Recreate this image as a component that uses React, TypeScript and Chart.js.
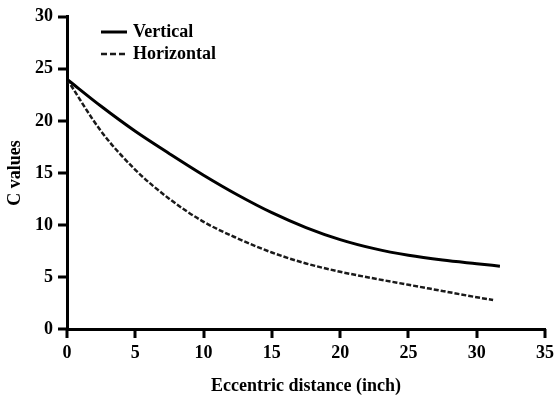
import React, { useEffect, useRef } from "react";
import { Chart, registerables } from "chart.js";

Chart.register(...registerables);

const verticalX = [0, 2.5, 5, 7.5, 10, 12.5, 15, 17.5, 20, 22.5, 25, 27.5, 30, 31.7];
const verticalY = [24, 21.4, 19.0, 16.85, 14.78, 12.88, 11.18, 9.75, 8.59, 7.72, 7.08, 6.62, 6.27, 6.04];
const horizontalX = [0, 2.5, 5, 7.5, 10, 12.5, 15, 17.5, 20, 22.5, 25, 27.5, 30, 31.2];
const horizontalY = [24, 19.0, 15.3, 12.5, 10.3, 8.7, 7.35, 6.3, 5.5, 4.85, 4.25, 3.65, 3.05, 2.78];
const xTicks = [0, 5, 10, 15, 20, 25, 30, 35];
const yTicks = [0, 5, 10, 15, 20, 25, 30];
const seriesLabels = ["Vertical", "Horizontal"];
const xTitle = "Eccentric distance (inch)";
const yTitle = "C values";

const FONT = "'Liberation Serif', 'Times New Roman', serif";

const overlayPlugin = {
  id: "overlayLegendTicks",
  afterDraw(chart: any) {
    const ctx = chart.ctx;
    ctx.save();
    const x0 = 101;
    const x1 = 127;
    const rows = [32, 54];
    chart.data.datasets.forEach((ds: any, i: number) => {
      const y = rows[i];
      ctx.beginPath();
      ctx.strokeStyle = ds.borderColor;
      ctx.lineWidth = ds.borderWidth;
      ctx.setLineDash(i === 0 ? [] : [6, 3]);
      ctx.moveTo(x0, y);
      ctx.lineTo(x1, y);
      ctx.stroke();
      ctx.setLineDash([]);
      ctx.fillStyle = "#000";
      ctx.font = `bold 18px ${FONT}`;
      ctx.textBaseline = "middle";
      ctx.textAlign = "left";
      ctx.fillText(ds.label, 133, y);
    });
    const xs = chart.scales["x"];
    const ys = chart.scales["y"];
    const area = chart.chartArea;
    const len = 9;
    ctx.fillStyle = "#000";
    xTicks.forEach((v) => {
      const px = xs.getPixelForValue(v);
      ctx.fillRect(Math.round(px) - 1.5, area.bottom, 3, len);
    });
    yTicks.forEach((v) => {
      const py = ys.getPixelForValue(v);
      ctx.fillRect(area.left - len, Math.round(py) - 1.5, len, 3);
    });
    ctx.restore();
  },
};

export default function App() {
  const ref = useRef<HTMLCanvasElement>(null);
  useEffect(() => {
    if (!ref.current) return;
    const chart = new Chart(ref.current, {
      type: "line",
      data: {
        datasets: [
          {
            label: seriesLabels[0],
            data: verticalX.map((x, i) => ({ x, y: verticalY[i] })),
            borderColor: "#000",
            borderWidth: 3,
            pointRadius: 0,
            fill: false,
            cubicInterpolationMode: "monotone",
          },
          {
            label: seriesLabels[1],
            data: horizontalX.map((x, i) => ({ x, y: horizontalY[i] })),
            borderColor: "#1a1a1a",
            borderWidth: 2.5,
            borderDash: [5, 2],
            pointRadius: 0,
            fill: false,
            cubicInterpolationMode: "monotone",
          },
        ],
      },
      options: {
        animation: false,
        responsive: false,
        maintainAspectRatio: false,
        layout: { padding: { left: 0, right: 10, top: 16, bottom: 0 } },
        plugins: {
          legend: { display: false },
          tooltip: { enabled: false },
        },
        scales: {
          x: {
            type: "linear",
            min: 0,
            max: 35,
            afterFit: (s: any) => {
              s.height = 69;
            },
            ticks: {
              stepSize: 5,
              color: "#000",
              padding: 1,
              font: { family: FONT, size: 18, weight: "bold" },
            },
            grid: { display: false, drawTicks: true, tickLength: 13 },
            border: { display: true, color: "#000", width: 3 },
            title: {
              display: true,
              text: xTitle,
              color: "#000",
              padding: { top: 0, bottom: 1 },
              font: { family: FONT, size: 18, weight: "bold" },
            },
          },
          y: {
            type: "linear",
            min: 0,
            max: 30,
            afterFit: (s: any) => {
              s.width = 67;
            },
            ticks: {
              stepSize: 5,
              color: "#000",
              padding: 6,
              font: { family: FONT, size: 18, weight: "bold" },
            },
            grid: { display: false, drawTicks: true, tickLength: 8 },
            border: { display: true, color: "#000", width: 3 },
            title: {
              display: true,
              text: yTitle,
              color: "#000",
              padding: { top: 5, bottom: 0 },
              font: { family: FONT, size: 18, weight: "bold" },
            },
          },
        },
      },
      plugins: [overlayPlugin],
    } as any);
    return () => chart.destroy();
  }, []);
  return (
    <div style={{ position: "fixed", left: 0, top: 0, width: 555, height: 398, background: "#fff" }}>
      <canvas ref={ref} width={555} height={398} style={{ display: "block" }} />
    </div>
  );
}
